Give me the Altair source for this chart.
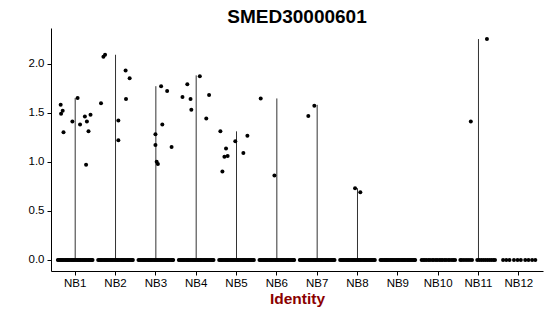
import altair as alt
import pandas as pd

groups = ["NB1", "NB2", "NB3", "NB4", "NB5", "NB6", "NB7", "NB8", "NB9", "NB10", "NB11", "NB12"]
violin_max = [1.65, 2.09, 1.77, 1.88, 1.31, 1.645, 1.58, 0.73, 0.0, 0.0, 2.25, 0.0]

# expressed cells (group, jitter offset, expression value)
pt_group = (["NB1"] * 12 + ["NB2"] * 8 + ["NB3"] * 8 + ["NB4"] * 7 + ["NB5"] * 8
            + ["NB6"] * 2 + ["NB7"] * 2 + ["NB8"] * 2 + ["NB11"] * 2)
pt_jitter = [-0.36, -0.35, -0.31, -0.29, -0.07, 0.06, 0.12, 0.24, 0.29, 0.33, 0.38, 0.27,
             -0.36, -0.30, -0.26, 0.07, 0.07, 0.25, 0.35, 0.26,
             -0.01, -0.01, 0.02, 0.05, 0.13, 0.16, 0.28, 0.39,
             -0.34, -0.22, -0.14, -0.12, 0.09, 0.25, 0.32,
             -0.40, -0.26, -0.30, -0.22, -0.35, -0.03, 0.17, 0.27,
             -0.40, -0.06,
             -0.22, -0.07,
             -0.06, 0.07,
             -0.19, 0.21]
pt_value = [1.58, 1.49, 1.52, 1.30, 1.41, 1.65, 1.38, 1.46, 1.41, 1.31, 1.48, 0.97,
            1.595, 2.07, 2.09, 1.42, 1.22, 1.93, 1.85, 1.64,
            1.28, 1.17, 1.00, 0.977, 1.77, 1.38, 1.72, 1.15,
            1.66, 1.79, 1.64, 1.53, 1.87, 1.44, 1.68,
            1.31, 1.136, 1.05, 1.06, 0.90, 1.21, 1.09, 1.265,
            1.645, 0.86,
            1.465, 1.57,
            0.73, 0.69,
            1.41, 2.25]

# zero-expression cells: jitter offsets seen along the zero line
zero_dense = [-0.43, -0.40, -0.37, -0.34, -0.31, -0.28, -0.25, -0.22, -0.19, -0.16, -0.13, -0.10,
              -0.07, -0.04, -0.01, 0.02, 0.05, 0.08, 0.11, 0.14, 0.17, 0.20, 0.23, 0.26, 0.29,
              0.32, 0.35, 0.38, 0.41, 0.43]
zero_nb10 = [-0.41, -0.37, -0.33, -0.29, -0.24, -0.20, -0.15, -0.11, -0.06, -0.02, 0.03, 0.07,
             0.11, 0.16, 0.20, 0.25, 0.29, 0.34, 0.38, 0.42]
zero_nb11 = [-0.45, -0.41, -0.36, -0.31, -0.26, -0.21, -0.16, -0.03, 0.02, 0.07, 0.12, 0.17,
             0.22, 0.27, 0.32, 0.37, 0.41]
zero_nb12 = [-0.39, -0.31, -0.23, -0.12, -0.03, 0.05, 0.16, 0.24, 0.33, 0.41]

rows = []
for g, j, v in zip(pt_group, pt_jitter, pt_value):
    rows.append({"group": g, "jitter": j, "value": v})
for g in groups[:9]:
    for j in zero_dense:
        rows.append({"group": g, "jitter": j, "value": 0.0})
for j in zero_nb10:
    rows.append({"group": "NB10", "jitter": j, "value": 0.0})
for j in zero_nb11:
    rows.append({"group": "NB11", "jitter": j, "value": 0.0})
for j in zero_nb12:
    rows.append({"group": "NB12", "jitter": j, "value": 0.0})
points = pd.DataFrame(rows)

viol = pd.DataFrame({"group": groups, "lo": [0.0] * 12, "hi": violin_max})
viol = viol[viol["hi"] > 0]

xscale = alt.Scale(domain=groups, paddingInner=0, paddingOuter=0.1)
yscale = alt.Scale(domain=[-0.1125, 2.3625], nice=False, zero=False)

xaxis = alt.Axis(title="Identity", labelAngle=0, labelFontSize=11.5, labelColor="black",
                 labelFont="Liberation Sans", titleFont="Liberation Sans", titleFontSize=15.5,
                 titleFontWeight="bold", titleColor="#8B0000", tickColor="black", domainColor="black",
                 tickSize=4, labelPadding=2, titlePadding=3, grid=False)
yaxis = alt.Axis(title=None, values=[0, 0.5, 1, 1.5, 2], format=".1f", labelFontSize=11.5,
                 labelColor="black", labelFont="Liberation Sans", tickColor="black",
                 domainColor="black", tickSize=4, labelPadding=3, grid=False)

rules = alt.Chart(viol).mark_rule(color="#333333", strokeWidth=1).encode(
    x=alt.X("group:N", scale=xscale, axis=xaxis, sort=groups),
    y=alt.Y("lo:Q", scale=yscale, axis=yaxis),
    y2="hi:Q",
)

dots = alt.Chart(points).mark_circle(color="black", opacity=1, size=16).encode(
    x=alt.X("group:N", scale=xscale, axis=xaxis, sort=groups),
    xOffset=alt.XOffset("jitter:Q", scale=alt.Scale(domain=[-0.5, 0.5])),
    y=alt.Y("value:Q", scale=yscale, axis=yaxis),
)

chart = alt.layer(rules, dots).properties(
    width=492, height=243,
    title=alt.TitleParams("SMED30000601", fontSize=19, fontWeight="bold", font="Liberation Sans",
                          anchor="middle", baseline="alphabetic", offset=5, dy=19, color="black"),
    autosize=alt.AutoSizeParams(type="none"),
    padding={"left": 51, "top": 28, "right": 7, "bottom": 45},
).configure_view(stroke=None)

chart.save("out.html", embed_options={"renderer": "svg", "actions": False})
